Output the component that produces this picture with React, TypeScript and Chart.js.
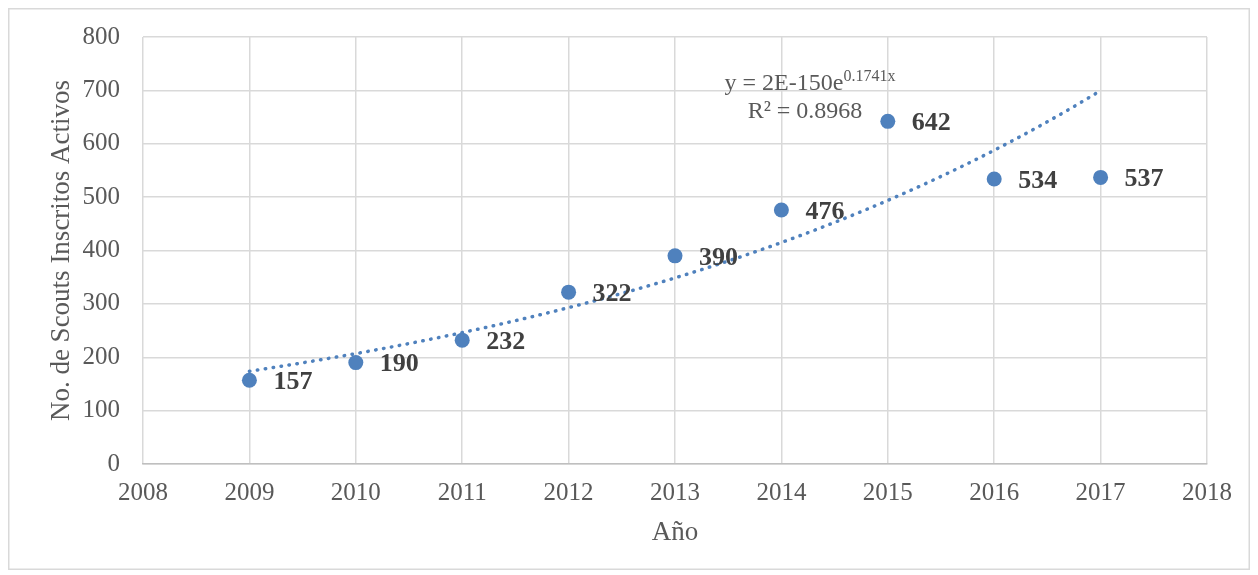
import React, { useEffect, useRef } from "react";
import { Chart, registerables } from "chart.js";

Chart.register(...registerables);

const years = [2009, 2010, 2011, 2012, 2013, 2014, 2015, 2016, 2017];
const scouts = [157, 190, 232, 322, 390, 476, 642, 534, 537];
const xRange = [2008, 2018];
const yRange = [0, 800];
const yStep = 100;
const xTitle = "Año";
const yTitle = "No. de Scouts Inscritos Activos";
const eqMain = "y = 2E-150e";
const eqSup = "0.1741x";
const r2Text = "R² = 0.8968";

const FONT = "'Liberation Serif', 'DejaVu Serif', serif";
const BLUE = "#4F81BD";
const GRID = "#d9d9d9";
const TXT = "#595959";

// exponential least-squares fit computed from the data (log-linear regression)
function expFit(xs: number[], ys: number[]) {
  const n = xs.length;
  const x0 = xs[0];
  const lx = xs.map((x) => x - x0);
  const ly = ys.map((y) => Math.log(y));
  const mx = lx.reduce((a, b) => a + b, 0) / n;
  const my = ly.reduce((a, b) => a + b, 0) / n;
  let sxy = 0, sxx = 0;
  for (let i = 0; i < n; i++) {
    sxy += (lx[i] - mx) * (ly[i] - my);
    sxx += (lx[i] - mx) * (lx[i] - mx);
  }
  const b = sxy / sxx;
  const a = Math.exp(my - b * mx);
  return (x: number) => a * Math.exp(b * (x - x0));
}

const fit = expFit(years, scouts);
const trend: { x: number; y: number }[] = [];
for (let i = 0; i <= 80; i++) {
  const x = years[0] + ((years[years.length - 1] - years[0]) * i) / 80;
  trend.push({ x, y: fit(x) });
}

const extras = {
  id: "extras",
  beforeDraw(chart: any) {
    const { ctx, width, height } = chart;
    ctx.save();
    ctx.fillStyle = "#ffffff";
    ctx.fillRect(0, 0, width, height);
    ctx.strokeStyle = GRID;
    ctx.lineWidth = 1.5;
    ctx.strokeRect(0.75, 0.75, width - 1.5, height - 1.5);
    ctx.restore();
  },
  afterDatasetsDraw(chart: any) {
    const { ctx } = chart;
    const meta = chart.getDatasetMeta(1);
    ctx.save();
    ctx.font = `bold 26px ${FONT}`;
    ctx.fillStyle = "#404040";
    ctx.textAlign = "left";
    ctx.textBaseline = "middle";
    meta.data.forEach((el: any, i: number) => {
      ctx.fillText(String(scouts[i]), el.x + 24, el.y + 2);
    });
    // trendline equation
    const cx = 802;
    ctx.fillStyle = TXT;
    ctx.font = `24px ${FONT}`;
    const w1 = ctx.measureText(eqMain).width;
    ctx.font = `16px ${FONT}`;
    const w2 = ctx.measureText(eqSup).width;
    const start = cx - (w1 + w2) / 2;
    ctx.font = `24px ${FONT}`;
    ctx.fillText(eqMain, start, 76);
    ctx.font = `16px ${FONT}`;
    ctx.fillText(eqSup, start + w1, 69);
    ctx.font = `24px ${FONT}`;
    ctx.textAlign = "center";
    ctx.fillText(r2Text, cx - 5, 104);
    ctx.restore();
  },
};

export default function App() {
  const ref = useRef<HTMLCanvasElement>(null);
  useEffect(() => {
    if (!ref.current) return;
    const chart = new Chart(ref.current, {
      type: "scatter",
      data: {
        datasets: [
          {
            type: "line",
            data: trend,
            borderColor: BLUE,
            borderWidth: 3.5,
            borderDash: [0.5, 7.5],
            borderCapStyle: "round",
            pointRadius: 0,
            fill: false,
            tension: 0,
            order: 0,
          } as any,
          {
            data: years.map((x, i) => ({ x, y: scouts[i] })),
            backgroundColor: BLUE,
            borderColor: BLUE,
            borderWidth: 0,
            pointRadius: 7.5,
            order: 1,
          },
        ],
      },
      options: {
        animation: false,
        responsive: true,
        maintainAspectRatio: false,
        layout: { padding: { left: 0, right: 43, top: 29, bottom: 0 } },
        plugins: { legend: { display: false }, tooltip: { enabled: false } },
        scales: {
          x: {
            type: "linear",
            min: xRange[0],
            max: xRange[1],
            ticks: {
              stepSize: 1,
              padding: 14,
              color: TXT,
              font: { family: FONT, size: 25 },
              callback: (v: any) => String(v),
            },
            grid: { color: GRID, lineWidth: 1.5, drawTicks: false },
            border: { color: "#bfbfbf", width: 1.5 },
            title: {
              display: true,
              text: xTitle,
              color: TXT,
              font: { family: FONT, size: 27 },
              padding: { top: 0, bottom: 21 },
            },
            afterFit: (s: any) => {
              s.height = 106;
              s.paddingLeft = 0;
              s.paddingRight = 0;
            },
          },
          y: {
            min: yRange[0],
            max: yRange[1],
            ticks: {
              stepSize: yStep,
              padding: 23,
              color: TXT,
              font: { family: FONT, size: 25 },
              callback: (v: any) => String(v),
            },
            grid: { color: GRID, lineWidth: 1.5, drawTicks: false },
            border: { display: false },
            title: {
              display: true,
              text: yTitle,
              color: TXT,
              font: { family: FONT, size: 27 },
              padding: { top: 38, bottom: 0 },
            },
            afterFit: (s: any) => {
              s.width = 135;
              s.paddingTop = 0;
              s.paddingBottom = 0;
            },
          },
        },
      },
      plugins: [extras],
    });
    return () => chart.destroy();
  }, []);
  return (
    <div style={{ width: 1242, height: 562, position: "relative" }}>
      <canvas ref={ref} />
    </div>
  );
}
